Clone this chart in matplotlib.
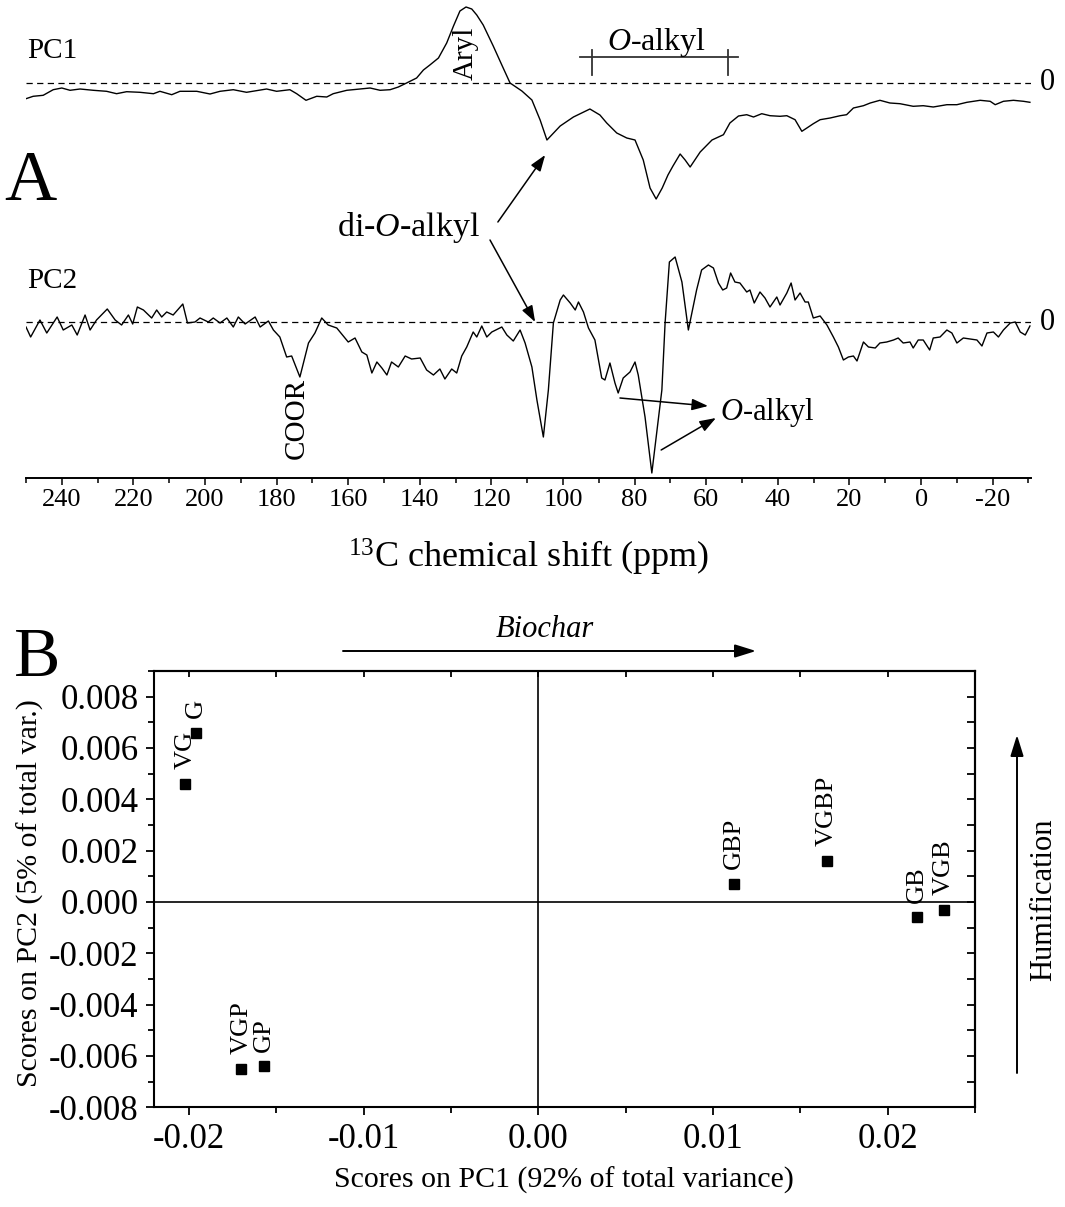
import numpy as np
import matplotlib
matplotlib.use("Agg")
import matplotlib.pyplot as plt
from matplotlib.ticker import MultipleLocator, FixedLocator, FormatStrFormatter

plt.rcParams['font.family'] = ['Liberation Serif', 'DejaVu Serif']
plt.rcParams['mathtext.fontset'] = 'custom'
plt.rcParams['mathtext.rm'] = 'Liberation Serif'
plt.rcParams['mathtext.it'] = 'Liberation Serif:italic'
plt.rcParams['axes.unicode_minus'] = False

# ---------------- Panel A data: PCA loadings (arbitrary units) ----------------
pc1_ppm = [250.0, 248.0, 245.2, 242.4, 240.0, 237.7, 234.9, 231.2, 227.5, 224.7,
           221.9, 218.2, 214.4, 212.6, 209.3, 207.0, 202.3, 198.6, 195.8, 192.1,
           188.4, 182.8, 180.0, 176.3, 174.4, 171.8, 168.8, 166.0, 164.2, 160.4,
           156.7, 153.9, 151.1, 148.3, 146.0, 143.7, 140.9, 139.0, 137.2, 134.8,
           132.5, 130.6, 128.8, 127.1, 125.5, 124.1, 122.3, 119.5, 117.1, 114.8,
           111.5, 108.7, 106.4, 104.5, 100.8, 97.1, 92.5, 89.7, 87.8, 85.0,
           82.2, 79.9, 77.6, 75.7, 74.0, 72.3, 70.7, 69.3, 67.3, 65.9,
           64.5, 61.7, 58.4, 55.2, 53.4, 51.0, 48.7, 46.8, 44.5, 42.2,
           39.4, 37.5, 35.2, 33.3, 31.9, 30.1, 28.2, 25.4, 22.6, 20.8,
           18.9, 16.1, 14.2, 11.5, 8.7, 5.9, 2.2, -0.6, -3.4, -7.2,
           -10.0, -12.8, -16.5, -19.3, -20.7, -23.0, -25.8, -28.6, -30.4]
pc1_load = [-15.7, -13.3, -12.3, -6.7, -5.0, -7.3, -6.0, -7.3, -8.3, -10.7,
            -8.7, -9.3, -10.7, -8.3, -11.7, -8.3, -8.3, -11.0, -8.3, -6.7,
            -9.3, -6.0, -8.3, -6.7, -10.7, -17.3, -13.3, -14.0, -10.7, -7.3,
            -6.0, -5.0, -7.3, -6.7, -4.0, 0.0, 5.0, 13.0, 18.0, 25.0,
            40.0, 57.0, 72.0, 76.0, 74.0, 68.0, 58.0, 37.0, 18.0, 0.0,
            -8.0, -17.0, -37.0, -57.0, -43.0, -34.0, -26.0, -32.0, -40.0, -50.0,
            -55.0, -57.0, -77.0, -105.0, -116.0, -105.0, -92.0, -83.0, -71.0, -77.0,
            -84.0, -69.0, -57.0, -51.7, -40.0, -33.0, -31.7, -34.0, -30.7, -32.7,
            -33.3, -32.7, -36.7, -48.3, -45.0, -40.7, -36.7, -35.0, -32.7, -31.7,
            -25.0, -22.7, -20.0, -17.3, -20.0, -20.7, -23.3, -22.7, -24.0, -21.7,
            -21.7, -19.3, -17.3, -18.3, -21.7, -18.3, -17.3, -18.3, -19.3]

pc2_ppm = [250.0, 248.7, 246.1, 244.2, 241.3, 239.6, 237.2, 235.7, 233.5, 232.1,
           230.3, 227.3, 225.1, 223.3, 221.4, 220.2, 218.9, 217.2, 214.9, 213.5,
           212.1, 210.7, 208.9, 206.2, 204.9, 202.8, 201.4, 199.1, 197.7, 195.8,
           193.9, 192.1, 190.7, 188.8, 186.0, 184.6, 182.3, 180.9, 179.1, 177.2,
           175.8, 173.5, 171.1, 169.3, 167.4, 165.6, 163.2, 160.0, 158.1, 156.2,
           154.8, 153.4, 152.0, 150.6, 149.2, 147.9, 146.0, 144.1, 142.3, 139.9,
           138.1, 136.2, 134.4, 133.0, 131.1, 129.7, 128.3, 126.9, 125.1, 124.1,
           122.7, 121.3, 119.9, 117.1, 115.7, 113.9, 112.0, 110.6, 108.7, 107.3,
           105.5, 104.1, 102.7, 100.8, 99.9, 98.0, 96.6, 95.7, 94.3, 92.9,
           91.1, 89.2, 88.3, 86.9, 85.5, 84.6, 83.2, 81.3, 79.9, 79.0,
           77.1, 75.2, 73.4, 72.4, 71.5, 70.3, 68.7, 66.8, 65.0, 62.7,
           61.3, 59.4, 58.0, 56.6, 55.4, 54.3, 53.2, 52.0, 50.6, 48.7,
           47.8, 46.6, 45.0, 43.6, 42.2, 40.3, 39.4, 37.5, 36.3, 35.2,
           33.8, 32.4, 31.5, 30.1, 28.2, 26.3, 24.5, 23.1, 21.7, 20.3,
           18.9, 17.9, 16.1, 14.7, 12.8, 11.5, 9.6, 7.7, 6.4, 5.0,
           3.1, 2.2, 0.8, -0.6, -2.4, -3.4, -5.3, -7.2, -8.6, -10.0,
           -11.8, -13.7, -15.6, -17.0, -18.4, -20.2, -21.6, -23.0, -24.9, -26.3,
           -27.7, -29.1, -30.4]
pc2_load = [-5, -15, 2, -11, 5, -8, -3, -13, 7, -8,
            2, 13, 2, -3, 7, -2, 15, 12, 4, 12,
            5, 10, 7, 18, -1, 0, 4, 0, 4, -1,
            4, -5, 5, -2, 5, -5, 1, -8, -15, -35,
            -34, -55, -21, -11, 4, -3, -6, -20, -16, -30,
            -33, -51, -40, -46, -53, -40, -45, -34, -37, -36,
            -48, -53, -47, -57, -47, -51, -34, -25, -10, -15,
            -4, -15, -10, -5, -13, -19, -8, -21, -45, -78,
            -115, -68, -1, 22, 27, 19, 12, 20, 10, -6,
            -18, -56, -58, -41, -61, -71, -56, -50, -40, -53,
            -95, -151, -98, -68, -1, 60, 65, 40, -8, 32,
            52, 57, 54, 39, 32, 34, 49, 40, 39, 30,
            32, 19, 30, 24, 15, 25, 17, 29, 39, 22,
            29, 20, 20, 4, 6, -3, -15, -25, -38, -35,
            -34, -39, -20, -25, -26, -21, -20, -18, -16, -21,
            -20, -26, -18, -18, -28, -16, -15, -8, -11, -21,
            -16, -17, -18, -24, -11, -10, -15, -8, -1, 0,
            -10, -13, -4]

shift_ticks = [240, 220, 200, 180, 160, 140, 120, 100, 80, 60, 40, 20, 0, -20]
oalkyl_region = (92, 54)

# ---------------- Panel B data: PCA scores ----------------
samples = ['VG', 'G', 'VGP', 'GP', 'GBP', 'VGBP', 'GB', 'VGB']
pc1_scores = [-0.0202, -0.0196, -0.0170, -0.0157, 0.0112, 0.0165, 0.0217, 0.0232]
pc2_scores = [0.0046, 0.0066, -0.0065, -0.0064, 0.0007, 0.0016, -0.0006, -0.0003]
score_xticks = [-0.02, -0.01, 0.00, 0.01, 0.02]

W, H = 1065, 1207
fig = plt.figure(figsize=(W / 100, H / 100), dpi=100)


def fx(px):
    return px / W


def fy(py):
    return 1 - py / H


# ================= Panel A =================
axA = fig.add_axes([fx(26), fy(478), 1005 / W, 478 / H])
axA.set_xlim(250, -30.7)
axA.set_ylim(0, 478)
base1, base2 = 395, 156
axA.plot(pc1_ppm, base1 + np.array(pc1_load), color='black', lw=1.0)
axA.plot(pc2_ppm, base2 + np.array(pc2_load), color='black', lw=1.0)
for b in (base1, base2):
    axA.axhline(b, color='black', lw=0.9, ls=(0, (5, 3.5)))
    axA.text(-35.4, b, '0', fontsize=22, ha='center', va='center')

for s in ('left', 'right', 'top'):
    axA.spines[s].set_visible(False)
axA.spines['bottom'].set_linewidth(1.4)
axA.set_yticks([])
axA.xaxis.set_major_locator(FixedLocator(shift_ticks))
axA.xaxis.set_minor_locator(MultipleLocator(10))
axA.tick_params(axis='x', which='major', direction='out', length=5, width=1.1,
                labelsize=19, pad=3)
axA.tick_params(axis='x', which='minor', direction='out', length=3.5, width=1.1)

axA.text(249.7, 420, 'PC1', fontsize=21, ha='left', va='baseline')
axA.text(249.7, 190, 'PC2', fontsize=21, ha='left', va='baseline')
axA.text(127.1, 398, 'Aryl', fontsize=21, rotation=90, ha='center', va='bottom')
axA.text(174.3, 100, 'COOR', fontsize=21, rotation=90, ha='center', va='top')
axA.text(87.6, 428, r'$\mathit{O}$-alkyl', fontsize=23, ha='left', va='baseline')
axA.plot([oalkyl_region[0] + 3.4, oalkyl_region[1] - 2.8], [421, 421],
         color='#333333', lw=1.3)
for r in oalkyl_region:
    axA.plot([r, r], [403, 428], color='#333333', lw=1.3)

fig.text(fx(4), fy(200), 'A', fontsize=52, ha='left', va='baseline')
axA.text(163.2, 242, r'di-$\mathit{O}$-alkyl', fontsize=24.5, ha='left', va='baseline')
arr = dict(arrowstyle='-|>,head_length=0.7,head_width=0.25', color='black', lw=1.1,
           shrinkA=0, shrinkB=0, mutation_scale=14)
axA.annotate('', xy=(105.0, 323), xytext=(118.2, 256), arrowprops=arr)
axA.annotate('', xy=(107.8, 156), xytext=(120.4, 238), arrowprops=arr)
axA.text(56.1, 58, r'$\mathit{O}$-alkyl', fontsize=22, ha='left', va='baseline')
axA.annotate('', xy=(59.5, 72), xytext=(84.1, 80), arrowprops=arr)
axA.annotate('', xy=(57.3, 60), xytext=(72.6, 28), arrowprops=arr)

fig.text(fx(528), fy(557), r'$^{13}$C chemical shift (ppm)', fontsize=26,
         ha='center', va='center')

# ================= Panel B =================
axB = fig.add_axes([fx(154), fy(1107.3), 821 / W, (1107.3 - 671) / H])
axB.set_xlim(-0.022, 0.025)
axB.set_ylim(-0.008, 0.009)
axB.axhline(0, color='black', lw=1.2, zorder=1)
axB.axvline(0, color='black', lw=1.2, zorder=1)
axB.plot(pc1_scores, pc2_scores, 's', color='black', ms=7, zorder=3)
for name, xv, yv in zip(samples, pc1_scores, pc2_scores):
    axB.annotate(name, (xv, yv), xytext=(0, 10.5), textcoords='offset points',
                 rotation=90, ha='center', va='bottom', fontsize=19)

for s in axB.spines.values():
    s.set_linewidth(1.5)
axB.xaxis.set_major_locator(FixedLocator(score_xticks))
axB.xaxis.set_minor_locator(MultipleLocator(0.005))
axB.xaxis.set_major_formatter(FormatStrFormatter('%.2f'))
axB.yaxis.set_major_locator(MultipleLocator(0.002))
axB.yaxis.set_minor_locator(MultipleLocator(0.001))
axB.yaxis.set_major_formatter(FormatStrFormatter('%.3f'))
axB.tick_params(which='major', direction='out', length=6, width=1.3,
                labelsize=25, pad=5)
axB.tick_params(which='minor', direction='out', length=4.3, width=1.3)

secx = axB.secondary_xaxis('top')
secx.set_xticks(np.arange(-0.02, 0.0251, 0.005))
secx.tick_params(direction='in', length=4.5, width=1.3, labeltop=False)
secx.spines['top'].set_linewidth(1.5)
secy = axB.secondary_yaxis('right')
secy.set_yticks(np.arange(-0.008, 0.00801, 0.001))
secy.tick_params(direction='in', length=6, width=1.3, labelright=False)
secy.spines['right'].set_linewidth(1.5)

fig.text(fx(564), fy(1180), 'Scores on PC1 (92% of total variance)', fontsize=21.5,
         ha='center', va='center')
fig.text(fx(30), fy(893), 'Scores on PC2 (5% of total var.)', fontsize=21.5,
         ha='center', va='center', rotation=90)
fig.text(fx(14), fy(676), 'B', fontsize=50, ha='left', va='baseline')

fig.text(fx(545), fy(637), 'Biochar', fontsize=22, style='italic',
         ha='center', va='baseline')
arrow_style = '-|>,head_length=0.8,head_width=0.25'
fig.add_artist(matplotlib.patches.FancyArrowPatch(
    (fx(343), fy(651)), (fx(756), fy(651)), transform=fig.transFigure,
    arrowstyle=arrow_style, color='black', lw=1.4, mutation_scale=16,
    shrinkA=0, shrinkB=0))
fig.add_artist(matplotlib.patches.FancyArrowPatch(
    (fx(1017), fy(1073)), (fx(1017), fy(735)), transform=fig.transFigure,
    arrowstyle=arrow_style, color='black', lw=1.4, mutation_scale=16,
    shrinkA=0, shrinkB=0))
fig.text(fx(1044), fy(900), 'Humification', fontsize=22, rotation=90,
         ha='center', va='center')

fig.savefig('out.png', dpi=100)
